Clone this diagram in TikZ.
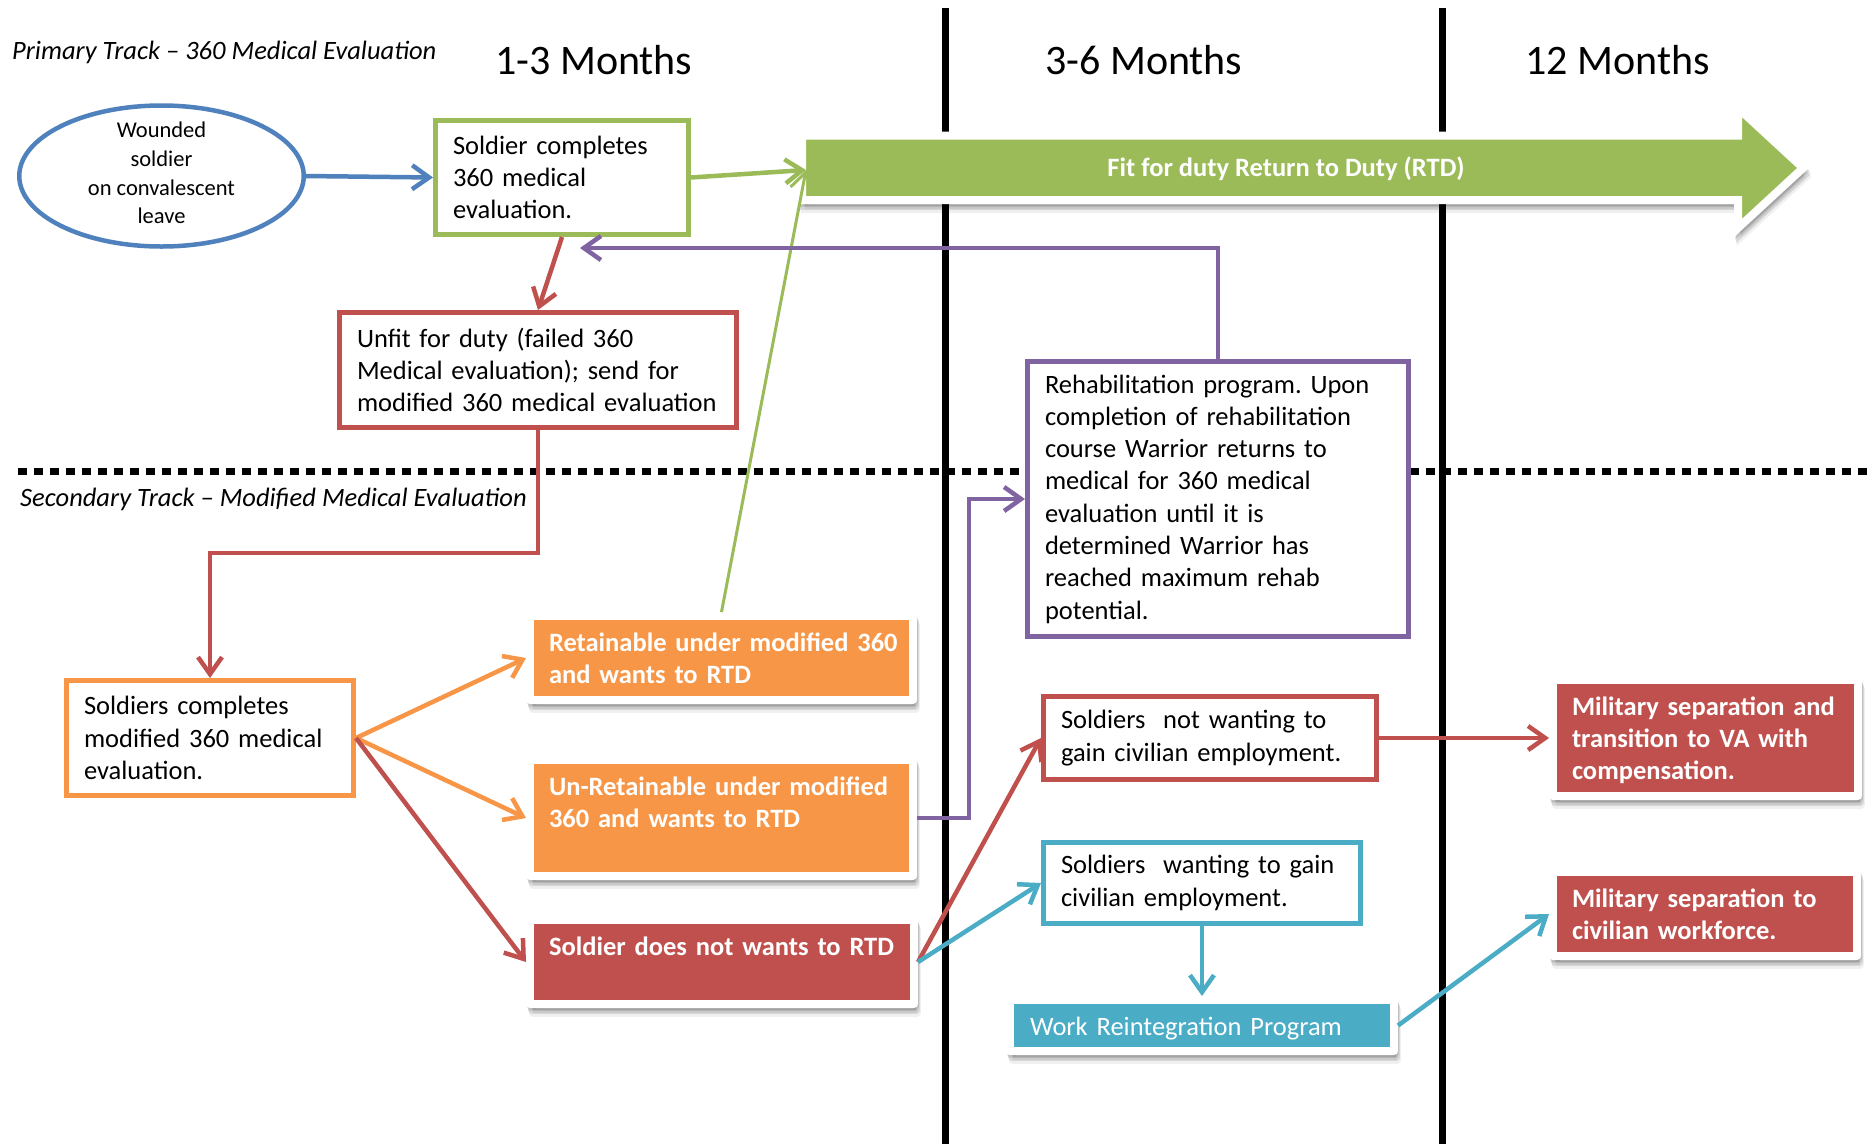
\documentclass[tikz,border=0pt]{standalone}
\usepackage{fontspec}
\setmainfont{Carlito}
\usetikzlibrary{arrows.meta,shapes.geometric}
\definecolor{cblue}{HTML}{4F81BD}
\definecolor{cgreen}{HTML}{9BBB59}
\definecolor{cred}{HTML}{C0504D}
\definecolor{corange}{HTML}{F79646}
\definecolor{cpurple}{HTML}{8064A2}
\definecolor{cteal}{HTML}{4BACC6}
\newcommand\oneln[1]{\mbox{#1}}
\frenchspacing
\begin{document}
\begin{tikzpicture}[x=1pt,y=-1pt,
  bodyfont/.style={font=\fontsize{26.5}{32.3}\selectfont},
  lbl/.style={inner sep=0pt, anchor=base west},
  softshadow/.style={
     preaction={fill=black, draw=black, line width=8pt, opacity=0.10, transform canvas={xshift=1pt, yshift=-3pt}},
     preaction={fill=black, draw=black, line width=8pt, opacity=0.10, transform canvas={xshift=2pt, yshift=-6pt}},
     preaction={fill=black, draw=black, line width=8pt, opacity=0.06, transform canvas={xshift=2.5pt, yshift=-9pt}}},
  obox/.style n args={4}{draw=#1, line width=5pt, fill=white, minimum width=#2, minimum height=#3,
     text width=#4, inner xsep=17.5pt, inner ysep=0pt, align=left, bodyfont},
  card/.style n args={5}{softshadow, fill=#1, draw=white, line width=8pt, line join=round,
     minimum width=#2, minimum height=#3,
     text width=#4, text height=35pt, text depth=#5, inner xsep=19pt, inner ysep=0pt, align=left,
     text=white, font=\bfseries\fontsize{26.5}{32.3}\selectfont},
  arr/.style={line width=4.5pt, -{Straight Barb[length=17pt,width=24pt]}},
]
\useasboundingbox (0,0) rectangle (1870,1144);
\fill[white] (0,0) rectangle (1870,1144);

% time dividers
\draw[line width=7pt] (945.5,8) -- (945.5,1144);
\draw[line width=7pt] (1442,8) -- (1442,1144);

% track divider
\draw[line width=7pt, dash pattern=on 9pt off 7pt] (18,471) -- (1870,471);

% headings
\node[lbl, font=\itshape\fontsize{26.5}{32}\selectfont] (primary) at (12,59.5) {Primary Track – 360 Medical Evaluation};
\node[lbl, font=\itshape\fontsize{26.5}{32}\selectfont] (secondary) at (20,506.5) {Secondary Track – Modified Medical Evaluation};
\node[lbl, font=\fontsize{42}{50}\selectfont] (m1) at (495,74) {1-3 Months};
\node[lbl, font=\fontsize{42}{50}\selectfont] (m2) at (1045,74) {3-6 Months};
\node[lbl, font=\fontsize{42}{50}\selectfont] (m3) at (1525,74) {12 Months};

% big RTD arrow
\path[softshadow, fill=cgreen, draw=white, line width=8pt]
  (802,135.5) -- (1738,135.5) -- (1738,108) -- (1803,168) -- (1738,228) -- (1738,200) -- (802,200) -- cycle;
\node[inner sep=0pt, anchor=base, text=white, font=\bfseries\fontsize{26.5}{32}\selectfont] (rtd) at (1286,176.5) {Fit for duty Return to Duty (RTD)};
\coordinate (rtdin) at (806,170);

% primary track
\node[ellipse, draw=cblue, line width=4.5pt, fill=white, minimum width=284.5, minimum height=141, inner sep=0pt] (wound) at (161.5,176) {};
\node[align=center, inner sep=0pt, font=\fontsize{22.5}{28.6}\selectfont] (woundtxt) at (161.5,173) {Wounded\\soldier\\on convalescent\\leave};
\node[obox={cgreen}{253}{114}{218pt}] (g1) at (562,177.5) {Soldier completes\\360 medical\\evaluation.};
\node[obox={cred}{397}{115}{362pt}] (unfit) at (538,370) {Unfit for duty (failed 360\\Medical evaluation); send for\\modified 360 medical evaluation};
\node[obox={cpurple}{381}{275}{346pt}] (rehab) at (1218,499) {Rehabilitation program. Upon\\completion of rehabilitation\\course Warrior returns to\\medical for 360 medical\\evaluation until it is\\determined Warrior has\\reached maximum rehab\\potential.};
\coordinate (g1in) at (580,248);

% secondary track
\node[obox={corange}{287}{115}{252pt}] (sc2) at (210,738) {Soldiers completes\\modified 360 medical\\evaluation.};
\coordinate (redbend) at (210,553);
\coordinate (pbend) at (969,499);
\node[card={corange}{383}{84}{345pt}{49pt}] (ret) at (721.5,658) {\oneln{Retainable under modified 360}\\\oneln{and wants to RTD}};
\node[card={corange}{383}{116}{345pt}{81pt}] (unret) at (721.5,818) {\oneln{Un-Retainable under modified}\\\oneln{360 and wants to RTD}};
\node[card={cred}{384}{84}{346pt}{49pt}] (sdn) at (722,962) {\oneln{Soldier does not wants to RTD}};
\node[obox={cred}{333}{83}{298pt}] (snw) at (1210,738) {Soldiers~ not wanting to\\gain civilian employment.};
\node[obox={cteal}{317}{81}{282pt}] (sw) at (1202,883) {Soldiers~ wanting to gain\\civilian employment.};
\node[card={cteal}{384}{51}{344pt}{16pt}, inner xsep=20pt, font=\fontsize{26.5}{32.3}\selectfont] (wrp) at (1202,1025.5) {\oneln{Work Reintegration Program}};
\node[card={cred}{305}{116}{267pt}{81pt}] (msva) at (1705.5,738) {\oneln{Military separation and}\\\oneln{transition to VA with}\\\oneln{compensation.}};
\node[card={cred}{304}{84}{266pt}{49pt}] (msc) at (1705,914) {\oneln{Military separation to}\\\oneln{civilian workforce.}};

% connectors
\draw[arr, cblue] (wound.east) -- (g1.west);
\draw[arr, cgreen] (g1.east) -- (rtdin);
\draw[arr, cgreen, line width=3pt] (ret.north) -- (rtdin);
\draw[arr, cred] (g1.south) -- (unfit.north);
\draw[arr, cpurple] (rehab.north) |- (g1in);
\draw[arr, cred] (unfit.south) |- (redbend) -- (sc2.north);
\draw[arr, corange] (sc2.east) -- (ret.west);
\draw[arr, corange] (sc2.east) -- (unret.west);
\draw[arr, cred] (sc2.east) -- (sdn.west);
\draw[arr, cpurple] (unret.east) -| (pbend) -- (rehab.west);
\draw[arr, cred] (sdn.east) -- (snw.west);
\draw[arr, cteal] (sdn.east) -- (sw.west);
\draw[arr, cred] (snw.east) -- (msva.west);
\draw[arr, cteal] (sw.south) -- (wrp.north);
\draw[arr, cteal] (wrp.east) -- (msc.west);
\end{tikzpicture}
\end{document}
